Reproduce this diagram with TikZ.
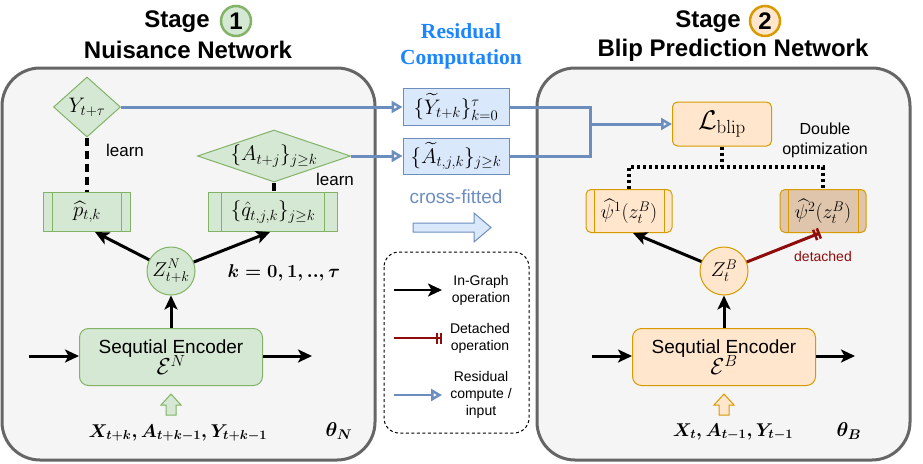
\RequirePackage{fix-cm}
\documentclass[tikz,border=0pt]{standalone}
\usepackage{amsmath, amssymb}
\usepackage[no-math]{fontspec}
\setmainfont{Liberation Sans}
\newfontfamily\resfont{Liberation Serif}
\usepackage{tikz}
\usetikzlibrary{positioning}
\usetikzlibrary{shapes.geometric}
\usetikzlibrary{arrows.meta}

\definecolor{nuisfill}{HTML}{D5E8D4}
\definecolor{nuisline}{HTML}{82B366}
\definecolor{blipfill}{HTML}{FFE6CC}
\definecolor{blipline}{HTML}{D79B00}
\definecolor{tanfill}{HTML}{DFC5AB}
\definecolor{resfill}{HTML}{DAE8FC}
\definecolor{resline}{HTML}{6C8EBF}
\definecolor{panelfill}{HTML}{F5F5F5}
\definecolor{panelline}{HTML}{666666}
\definecolor{detachred}{HTML}{8E0C0C}
\definecolor{titleblue}{HTML}{1A85FF}

\tikzset{
  panel/.style={draw=panelline, fill=panelfill, line width=3pt, rounded corners=38pt},
  stagetitle/.style={font=\fontsize{24}{28}\selectfont\bfseries},
  stagenum/.style={circle, line width=2.5pt, minimum size=30pt, inner sep=0pt, font=\fontsize{24}{28}\selectfont\bfseries},
  nuisdia/.style={diamond, draw=nuisline, fill=nuisfill, line width=1pt, inner sep=0pt, font=\fontsize{21}{25}\selectfont},
  sidebars/.style 2 args={path picture={
      \draw[#2, line width=1pt]
        ([xshift=#1]path picture bounding box.north west) -- ([xshift=#1]path picture bounding box.south west)
        ([xshift=-#1]path picture bounding box.north east) -- ([xshift=-#1]path picture bounding box.south east);}},
  nuisbox/.style={rectangle, draw=nuisline, fill=nuisfill, line width=1pt, minimum height=39pt, inner sep=0pt, font=\fontsize{21}{25}\selectfont},
  blipbox/.style={rectangle, draw=blipline, fill=blipfill, line width=1pt, rounded corners=5pt, minimum height=43pt, minimum width=86pt, inner sep=0pt, font=\fontsize{20}{24}\selectfont},
  resbox/.style={rectangle, draw=resline, fill=resfill, line width=1pt, minimum width=106pt, minimum height=37pt, inner sep=0pt, font=\fontsize{21}{25}\selectfont},
  latent/.style={circle, line width=1pt, minimum size=48pt, inner sep=0pt, font=\fontsize{20}{24}\selectfont},
  encoder/.style={rectangle, rounded corners=9pt, line width=1pt, minimum width=183pt, minimum height=57pt, align=center, font=\fontsize{19}{22}\selectfont},
  graph/.style={line width=3pt, -{Stealth[length=14pt, width=13pt, inset=3.5pt]}},
  resarrow/.style={draw=resline, line width=3pt, -{Triangle[open, length=11pt, width=12pt, line width=2.5pt]}},
  resline/.style={draw=resline, line width=3pt},
  detach/.style={draw=detachred, line width=3pt, -{Bar[width=11pt, line width=2.5pt, sep=1.5pt]Bar[width=11pt, line width=2.5pt]}},
  learnline/.style={line width=3.5pt, dash pattern=on 8pt off 5pt},
  optline/.style={line width=3.5pt, dash pattern=on 3pt off 3pt},
  note/.style={font=\fontsize{17}{20}\selectfont},
  legendtext/.style={align=center, font=\fontsize{14}{17}\selectfont},
  bigmath/.style={font=\fontsize{18.5}{22}\selectfont\boldmath}
}

\begin{document}
\begin{tikzpicture}[x=1pt,y=-1pt]
\useasboundingbox (0,0) rectangle (923,463);

% panels
\draw[panel] (2,68) rectangle (375,460);
\draw[panel] (537,68) rectangle (910,460);

% titles
\node[stagetitle] (stageA) at (177,22) {Stage};
\node[stagenum, draw=nuisline, fill=nuisfill] (numA) at (236,21) {1};
\node[stagetitle] (nameA) at (188,50) {Nuisance Network};
\node[stagetitle] (stageB) at (708,22) {Stage};
\node[stagenum, draw=blipline, fill=blipfill] (numB) at (765,21) {2};
\node[stagetitle] (nameB) at (733,50) {Blip Prediction Network};
\node[align=center, text=titleblue, font=\resfont\fontsize{21.5}{26}\selectfont\bfseries] (restitle) at (461,46) {Residual\\Computation};

% stage 1: nuisance network
\node[nuisdia, minimum width=67pt, minimum height=60pt] (ytau) at (87,107) {$Y_{t+\tau}$};
\node[nuisdia, minimum width=153pt, minimum height=52pt, aspect=3] (aj) at (274,156) {$\{A_{t+j}\}_{j\geq k}$};
\node[nuisbox, minimum width=87pt, sidebars={9pt}{nuisline}] (pk) at (87,212) {$\widehat{p}_{t,k}$};
\node[nuisbox, minimum width=129pt, sidebars={13pt}{nuisline}] (qk) at (273,212) {$\{\hat{q}_{t,j,k}\}_{j\geq k}$};
\node[latent, draw=nuisline, fill=nuisfill] (zn) at (171,271) {$Z^N_{t+k}$};
\node[encoder, draw=nuisline, fill=nuisfill] (encn) at (171,357) {Sequtial Encoder\\[-3pt]{\fontsize{23}{23}\selectfont$\mathcal{E}^N$}};
\node[note] (learnA) at (125,150) {learn};
\node[note] (learnB) at (335,179) {learn};
\node[bigmath] (krange) at (284,273) {$k=0,1,..,\tau$};
\node[bigmath] (xin) at (178,433) {$X_{t+k},A_{t+k-1},Y_{t+k-1}$};
\node[bigmath, font=\fontsize{20}{24}\selectfont\boldmath] (thetaN) at (339,431) {$\theta_N$};
\coordinate (inN) at (29,356);
\coordinate (outN) at (312,356);

\draw[learnline] (ytau.south) -- (pk.north);
\draw[learnline] (aj.south) -- (aj.south |- qk.north);
\draw[graph] (zn) -- ([xshift=8pt]pk.south);
\draw[graph] (zn) -- ([xshift=-3pt]qk.south);
\draw[graph] (encn.north) -- (zn.south);
\draw[graph] (inN) -- (encn.west |- inN);
\draw[graph] (encn.east |- outN) -- (outN);
\draw[draw=nuisline, fill=nuisfill, line width=1pt] (171,394) -- (181,405) -- (176,405) -- (176,415) -- (166,415) -- (166,405) -- (161,405) -- cycle;

% residual computation
\node[resbox] (ytil) at (456,107) {$\{\widetilde{Y}_{t+k}\}_{k=0}^{\tau}$};
\node[resbox, minimum height=36pt] (atil) at (456,156) {$\{\widetilde{A}_{t,j,k}\}_{j\geq k}$};
\node[font=\fontsize{19}{23}\selectfont, text=resline] (cross) at (456,197) {cross-fitted};
\draw[draw=resline, fill=resfill, line width=1pt] (413,223) -- (474,223) -- (474,213) -- (491,227.5) -- (474,242) -- (474,232) -- (413,232) -- cycle;

\draw[resarrow] (ytau.east) -- (ytil.west);
\draw[resarrow] (aj.east) -- (atil.west);

% legend
\draw[line width=1pt, dash pattern=on 3pt off 2.5pt, rounded corners=15pt] (384,252) rectangle (529,433);
\coordinate (lgA) at (394,290);
\coordinate (lgB) at (394,338);
\coordinate (lgC) at (394,395);
\node[legendtext] (lgtA) at (481,290) {In-Graph\\operation};
\node[legendtext] (lgtB) at (480,338) {Detached\\operation};
\node[legendtext] (lgtC) at (481,395) {Residual\\compute /\\input};
\draw[graph, line width=2.5pt] (lgA) -- ++(48,0);
\draw[detach, line width=2.5pt] (lgB) -- ++(48,0);
\draw[resarrow, line width=2.5pt] (lgC) -- ++(48,0);

% stage 2: blip prediction network
\node[blipbox, minimum width=99pt, minimum height=44pt, font=\fontsize{27}{30}\selectfont] (lblip) at (722,124) {$\mathcal{L}_{\mathrm{blip}}$};
\node[blipbox, sidebars={8pt}{blipline}] (psiA) at (629,211) {$\widehat{\psi}^1(z_t^B)$};
\node[blipbox, fill=tanfill, sidebars={8pt}{blipline}] (psiB) at (823,211) {$\widehat{\psi}^2(z_t^B)$};
\node[latent, draw=blipline, fill=blipfill] (zb) at (724,271) {$Z^B_t$};
\node[encoder, draw=blipline, fill=blipfill] (encb) at (724,357) {Sequtial Encoder\\[-3pt]{\fontsize{23}{23}\selectfont$\mathcal{E}^B$}};
\node[note, font=\fontsize{16}{20}\selectfont, align=center] (dbl) at (825,140) {Double\\optimization};
\node[font=\fontsize{14}{17}\selectfont, text=detachred] (detlabel) at (823,256) {detached};
\node[bigmath] (xinB) at (733,432) {$X_t,A_{t-1},Y_{t-1}$};
\node[bigmath, font=\fontsize{20}{24}\selectfont\boldmath] (thetaB) at (849,431) {$\theta_B$};
\coordinate (merge) at (590,124);
\coordinate (optmid) at (722,167);
\coordinate (inB) at (592,356);
\coordinate (outB) at (855,356);

\draw[resline] (ytil.east) -- (ytil.east -| merge) -- (atil.east -| merge) -- (atil.east);
\draw[resarrow] (merge) -- (lblip.west);
\draw[optline] (lblip.south) -- (optmid);
\draw[optline] (psiA.north) |- (optmid) -| (psiB.north);
\draw[graph] (zb) -- ([xshift=4pt]psiA.south);
\draw[detach] (zb) -- ([xshift=-3pt]psiB.south);
\draw[graph] (encb.north) -- (zb.south);
\draw[graph] (inB) -- (encb.west |- inB);
\draw[graph] (encb.east |- outB) -- (outB);
\draw[draw=blipline, fill=blipfill, line width=1pt] (724,394) -- (734,405) -- (729,405) -- (729,415) -- (719,415) -- (719,405) -- (714,405) -- cycle;
\end{tikzpicture}
\end{document}
